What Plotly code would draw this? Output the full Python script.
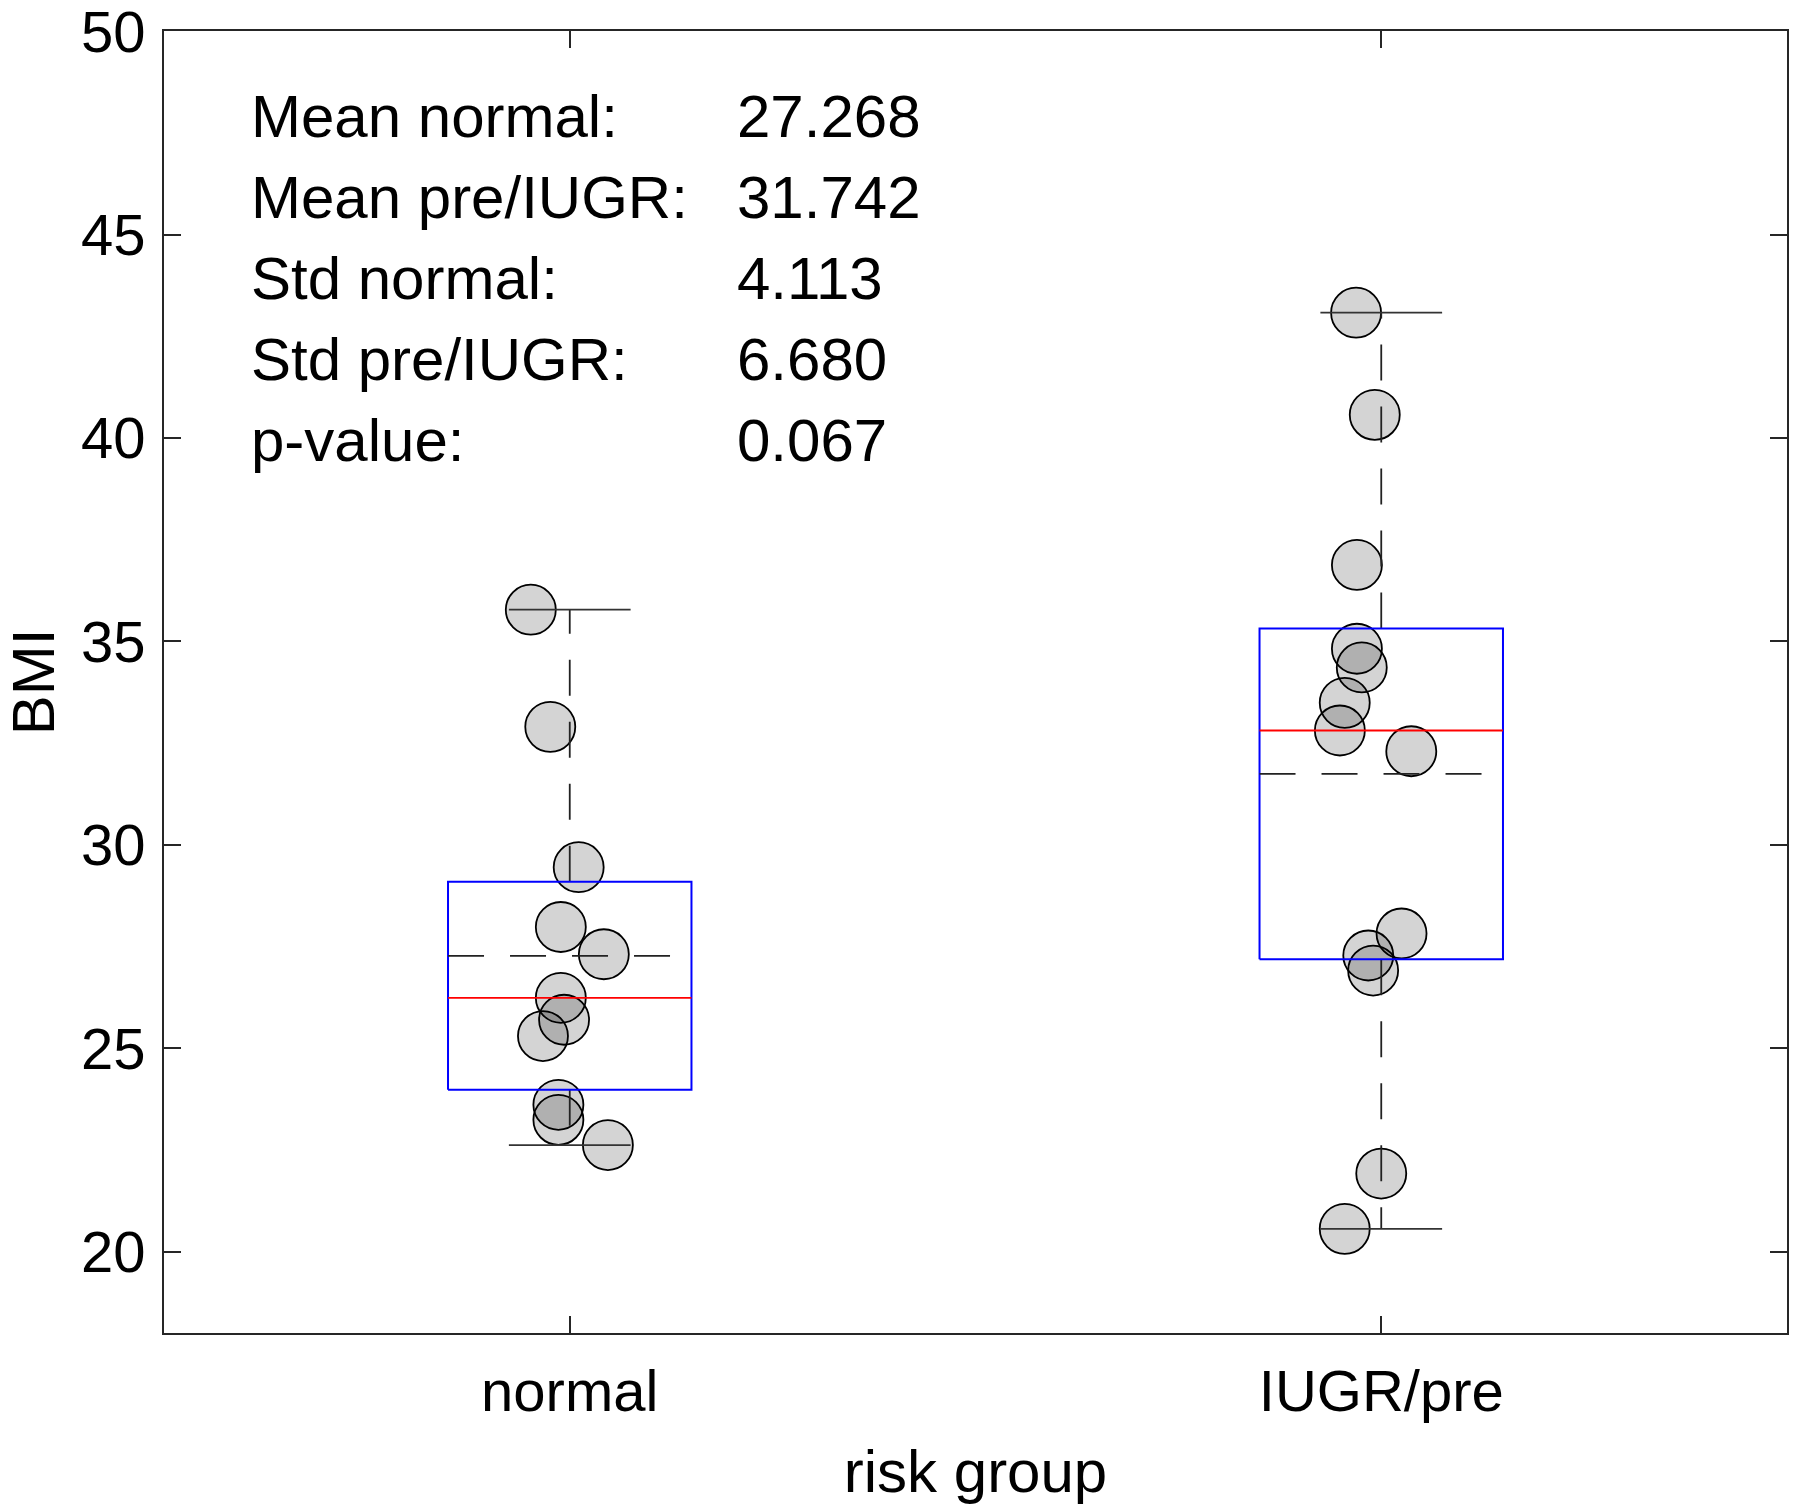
import plotly.graph_objects as go

# --- data ---
groups = ['normal', 'IUGR/pre']
group_pos = [1, 2]

normal_bmi = [35.78, 32.90, 29.45, 27.98, 27.31, 26.24, 25.70, 25.30, 23.61, 23.24, 22.62]
normal_x = [0.952, 0.976, 1.011, 0.989, 1.042, 0.989, 0.993, 0.967, 0.986, 0.986, 1.047]

iugr_bmi = [43.08, 40.57, 36.88, 34.82, 34.36, 33.49, 32.81, 32.30, 27.82, 27.28, 26.91, 21.92, 20.56]
iugr_x = [1.969, 1.992, 1.970, 1.970, 1.976, 1.955, 1.949, 2.037, 2.025, 1.984, 1.990, 2.000, 1.955]

q1 = [23.98, 27.19]
median = [26.24, 32.81]
q3 = [29.09, 35.32]
means = [27.268, 31.742]

y_ticks = [20, 25, 30, 35, 40, 45, 50]

stat_labels = ['Mean normal:', 'Mean pre/IUGR:', 'Std normal:', 'Std pre/IUGR:', 'p-value:']
stat_values = ['27.268', '31.742', '4.113', '6.680', '0.067']

FONT = 'Liberation Sans, Arial, Helvetica, sans-serif'
AXIS_COLOR = '#262626'
BOX_HALF = 0.15
CAP_HALF = 0.075
DASH = '36px,26px'

fig = go.Figure()

# points first, box elements drawn on top
for xs, ys in [(normal_x, normal_bmi), (iugr_x, iugr_bmi)]:
    fig.add_trace(go.Scatter(
        x=xs, y=ys, mode='markers',
        marker=dict(symbol='circle', size=50, color='rgba(0,0,0,0.17)',
                    line=dict(color='black', width=1.8)),
        showlegend=False, hoverinfo='y'
    ))

for i, pos in enumerate(group_pos):
    data = normal_bmi if i == 0 else iugr_bmi
    lo, hi = min(data), max(data)

    # whiskers (dashed)
    fig.add_trace(go.Scatter(
        x=[pos, pos, None, pos, pos], y=[q3[i], hi, None, q1[i], lo],
        mode='lines', line=dict(color='#222222', width=1.8, dash=DASH),
        showlegend=False, hoverinfo='skip'
    ))
    # caps
    fig.add_trace(go.Scatter(
        x=[pos - CAP_HALF, pos + CAP_HALF, None, pos - CAP_HALF, pos + CAP_HALF],
        y=[hi, hi, None, lo, lo],
        mode='lines', line=dict(color='#333333', width=1.8),
        showlegend=False, hoverinfo='skip'
    ))
    # box
    fig.add_trace(go.Scatter(
        x=[pos - BOX_HALF, pos + BOX_HALF, pos + BOX_HALF, pos - BOX_HALF, pos - BOX_HALF],
        y=[q1[i], q1[i], q3[i], q3[i], q1[i]],
        mode='lines', line=dict(color='#0000ff', width=2),
        showlegend=False, hoverinfo='skip'
    ))
    # median
    fig.add_trace(go.Scatter(
        x=[pos - BOX_HALF, pos + BOX_HALF], y=[median[i], median[i]],
        mode='lines', line=dict(color='#ff0000', width=1.8),
        showlegend=False, hoverinfo='skip'
    ))
    # mean
    fig.add_trace(go.Scatter(
        x=[pos - BOX_HALF, pos + BOX_HALF], y=[means[i], means[i]],
        mode='lines', line=dict(color='#222222', width=1.8, dash=DASH),
        showlegend=False, hoverinfo='skip'
    ))

# stats text block
annotations = []
for k, (lab, val) in enumerate(zip(stat_labels, stat_values)):
    yk = 47.9 - 1.99 * k
    annotations.append(dict(x=0.605, y=yk, xref='x', yref='y', text=lab, showarrow=False,
                            xanchor='left', yanchor='middle', font=dict(size=60, color='black')))
    annotations.append(dict(x=1.2036, y=yk, xref='x', yref='y', text=val, showarrow=False,
                            xanchor='left', yanchor='middle', font=dict(size=60, color='black')))

axis_common = dict(
    showline=True, linecolor=AXIS_COLOR, linewidth=1.8, mirror='allticks',
    ticks='inside', ticklen=17, tickwidth=1.5, tickcolor=AXIS_COLOR,
    showgrid=False, zeroline=False, tickfont=dict(size=58, color='black'),
    automargin=False, ticklabeloverflow='allow',
)

fig.update_layout(
    width=1800, height=1509,
    margin=dict(l=164, r=13, t=31, b=176),
    plot_bgcolor='white', paper_bgcolor='white',
    font=dict(family=FONT, color='black'),
    annotations=annotations,
    xaxis=dict(range=[0.5, 2.5], tickvals=group_pos, ticktext=groups,
               title=dict(text='risk group', font=dict(size=60), standoff=28),
               ticklabelstandoff=6, **axis_common),
    yaxis=dict(range=[18, 50.005], tickvals=y_ticks,
               title=dict(text='BMI', font=dict(size=60), standoff=10),
               ticklabelstandoff=5, **axis_common),
)

# drop the browser's default 8px body margin so the figure sits at the page corner
fig.write_html("out.html", config={'displayModeBar': False},
               post_script="document.body.style.margin='0';")
